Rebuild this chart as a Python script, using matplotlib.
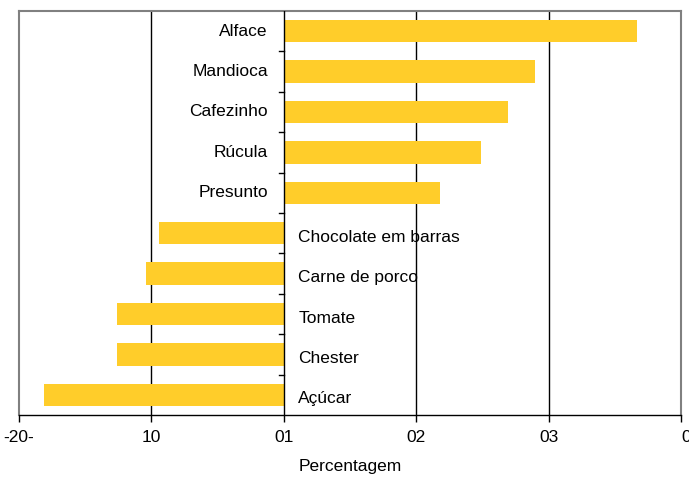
import matplotlib.pyplot as plt

plt.rcParams['font.family'] = ['Liberation Sans', 'DejaVu Sans']

foods = ["Alface", "Mandioca", "Cafezinho", "Rúcula", "Presunto",
         "Chocolate em barras", "Carne de porco", "Tomate", "Chester", "Açúcar"]
values = [26.7, 19.0, 16.9, 14.9, 11.8, -9.4, -10.4, -12.6, -12.6, -18.1]
xticks = [-20, -10, 0, 10, 20, 30]
xticklabels = ["-20-", "10", "01", "02", "03", "0"]

fig = plt.figure(figsize=(6.89, 4.78), dpi=100)
ax = fig.add_axes([19 / 689, 1 - 415 / 478, 662 / 689, 404 / 478])

pos = list(range(len(foods)))
ax.barh(pos, values, height=0.55, color='#FFCD2A', zorder=2)

# vertical gridlines
for g in [-10, 10, 20]:
    ax.axvline(g, color='black', lw=1, zorder=1)
ax.axvline(0, color='black', lw=1, zorder=3)

for p, name, v in zip(pos, foods, values):
    if v > 0:
        ax.text(-1.2, p, name, ha='right', va='center', fontsize=12.5)
    else:
        ax.text(1.1, p + 0.1, name, ha='left', va='center', fontsize=12.5)

# y-axis ticks at category boundaries on the zero line
for b in [i + 0.5 for i in pos[:-1]]:
    ax.plot([-0.4, 0], [b, b], color='black', lw=1, zorder=3, clip_on=False)

ax.set_xlim(-20, 30)
ax.set_ylim(len(foods) - 0.5, -0.5)
ax.set_yticks([])
ax.set_xticks(xticks)
ax.set_xticklabels(xticklabels, fontsize=12.5)
ax.get_xticklabels()[-1].set_ha('left')
ax.tick_params(axis='x', direction='out', length=5, width=1, pad=6)
ax.set_xlabel("Percentagem", fontsize=12.5, labelpad=10)

for s in ['top', 'right', 'left']:
    ax.spines[s].set_color('#808080')
    ax.spines[s].set_linewidth(1.5)
ax.spines['bottom'].set_color('black')
ax.spines['bottom'].set_linewidth(1)

fig.savefig('out.png', dpi=100)
